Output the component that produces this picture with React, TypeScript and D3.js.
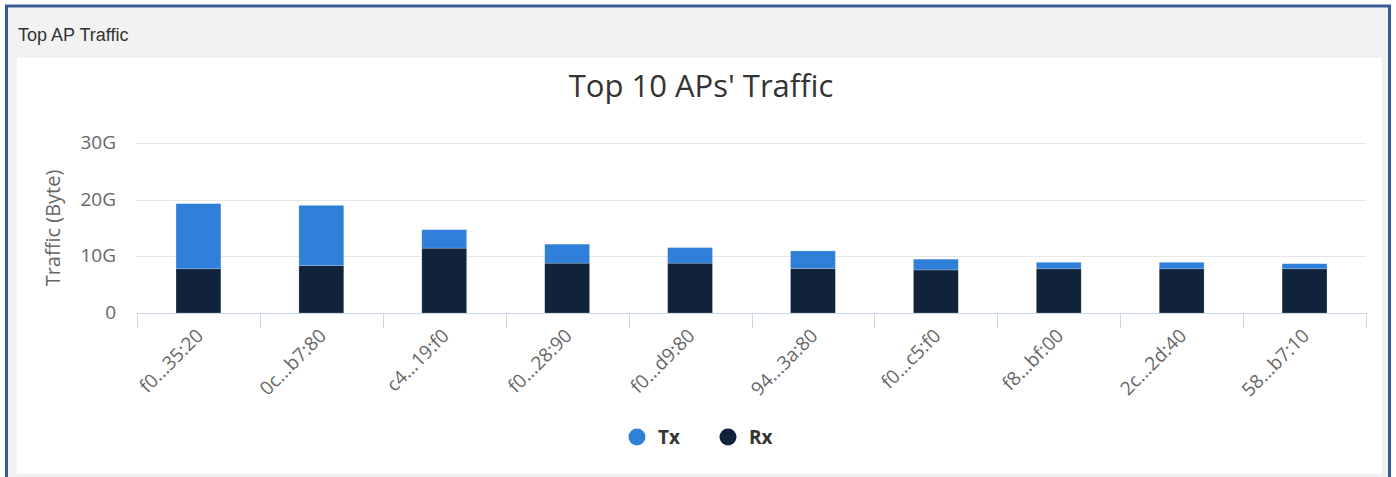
import React, { useEffect, useRef } from 'react';
import * as d3 from 'd3';

// AP names as shown on the x axis
const categories = [
  'f0...35:20', '0c...b7:80', 'c4...19:f0', 'f0...28:90', 'f0...d9:80',
  '94...3a:80', 'f0...c5:f0', 'f8...bf:00', '2c...2d:40', '58...b7:10',
];
// traffic in GB
const txValues = [11.5, 10.65, 3.25, 3.35, 2.75, 3.1, 1.9, 1.15, 1.15, 0.9];
const rxValues = [7.8, 8.35, 11.45, 8.8, 8.8, 7.85, 7.6, 7.8, 7.8, 7.8];
const yTicks = [0, 10e9, 20e9, 30e9];
const seriesNames = ['Tx', 'Rx'];
const seriesColors = ['#2f7fd8', '#10233a'];

const FONT = "'Open Sans', 'Noto Sans', sans-serif";

const App = () => {
  const svgRef = useRef<SVGSVGElement>(null);

  useEffect(() => {
    const width = 1396;
    const height = 477;
    const marginLeft = 137;
    const plotRight = 1366;
    const plotTop = 143;
    const plotBottom = 313;

    const svg = d3.select(svgRef.current);
    svg.selectAll('*').remove();

    // panel frame
    svg.append('rect').attr('width', width).attr('height', height).attr('fill', '#fff');
    svg.append('rect')
      .attr('x', 6.5).attr('y', 6).attr('width', 1383).attr('height', 480)
      .attr('fill', '#f2f2f2').attr('stroke', '#3a5a96').attr('stroke-width', 3);
    svg.append('rect')
      .attr('x', 17).attr('y', 58).attr('width', 1365).attr('height', 416)
      .attr('fill', '#fff');
    svg.append('text')
      .attr('x', 18).attr('y', 41)
      .attr('font-family', "'Liberation Sans', Arial, sans-serif")
      .attr('font-size', 18)
      .attr('fill', '#333')
      .text('Top AP Traffic');

    // title
    svg.append('text')
      .attr('x', 701).attr('y', 97)
      .attr('text-anchor', 'middle')
      .attr('font-family', FONT)
      .attr('font-size', 31)
      .attr('fill', '#333')
      .text("Top 10 APs' Traffic");

    const rows = categories.map((c, i) => ({ name: c, Tx: txValues[i] * 1e9, Rx: rxValues[i] * 1e9 }));

    const x = d3.scaleBand()
      .domain(categories)
      .range([marginLeft, plotRight])
      .paddingInner(0.635)
      .paddingOuter(0.3175);

    const y = d3.scaleLinear()
      .domain([0, 30e9])
      .range([plotBottom, plotTop]);

    // gridlines
    svg.append('g')
      .selectAll('line')
      .data(yTicks.slice(1))
      .join('line')
      .attr('x1', marginLeft).attr('x2', plotRight)
      .attr('y1', (d) => Math.round(y(d)) + 0.5)
      .attr('y2', (d) => Math.round(y(d)) + 0.5)
      .attr('stroke', '#e6e6e6');

    // y labels
    svg.append('g')
      .selectAll('text')
      .data(yTicks)
      .join('text')
      .attr('x', 116)
      .attr('y', (d) => y(d) + 6)
      .attr('text-anchor', 'end')
      .attr('font-family', FONT)
      .attr('font-size', 19)
      .attr('fill', '#666')
      .text((d) => (d === 0 ? '0' : `${d / 1e9}G`));

    svg.append('text')
      .attr('transform', `translate(60,${(plotTop + plotBottom) / 2}) rotate(-90)`)
      .attr('text-anchor', 'middle')
      .attr('font-family', FONT)
      .attr('font-size', 20)
      .attr('fill', '#666')
      .text('Traffic (Byte)');

    // stacked bars: Rx at the bottom, Tx on top
    const stack = d3.stack().keys(['Rx', 'Tx'])(rows as any);
    svg.append('g')
      .selectAll('g')
      .data(stack)
      .join('g')
      .attr('fill', (s) => seriesColors[seriesNames.indexOf(s.key)])
      .selectAll('rect')
      .data((s) => s)
      .join('rect')
      .attr('x', (d: any) => x(d.data.name)!)
      .attr('y', (d) => y(d[1]))
      .attr('height', (d) => y(d[0]) - y(d[1]))
      .attr('width', x.bandwidth())
      .attr('stroke', 'rgba(255,255,255,0.35)')
      .attr('stroke-width', 0.6);

    // x axis line + category boundary ticks
    const axis = svg.append('g').attr('stroke', '#ccd6eb');
    axis.append('line')
      .attr('x1', marginLeft).attr('x2', plotRight)
      .attr('y1', plotBottom + 0.5).attr('y2', plotBottom + 0.5);
    axis.selectAll('line.tick')
      .data(d3.range(categories.length + 1))
      .join('line')
      .attr('class', 'tick')
      .attr('x1', (i) => Math.round(marginLeft + i * x.step()) + 0.5)
      .attr('x2', (i) => Math.round(marginLeft + i * x.step()) + 0.5)
      .attr('y1', plotBottom).attr('y2', plotBottom + 15);

    svg.append('g')
      .selectAll('text')
      .data(categories)
      .join('text')
      .attr('transform', (d) => `translate(${x(d)! + x.bandwidth() / 2 + 6},${plotBottom + 24}) rotate(-45)`)
      .attr('text-anchor', 'end')
      .attr('font-family', FONT)
      .attr('font-size', 19)
      .attr('fill', '#666')
      .text((d) => d);

    // legend
    const legend = svg.append('g')
      .selectAll('g')
      .data(seriesNames)
      .join('g')
      .attr('transform', (d, i) => `translate(${637 + i * 91},437)`);
    legend.append('circle')
      .attr('r', 8.5)
      .attr('fill', (d, i) => seriesColors[i]);
    legend.append('text')
      .attr('x', 21).attr('y', 7)
      .attr('font-family', FONT)
      .attr('font-size', 19)
      .attr('font-weight', 'bold')
      .attr('fill', '#333')
      .text((d) => d);
  }, []);

  return (
    <svg
      ref={svgRef}
      width={1396}
      height={477}
      style={{ position: 'absolute', left: 0, top: 0 }}
    />
  );
};

export default App;
